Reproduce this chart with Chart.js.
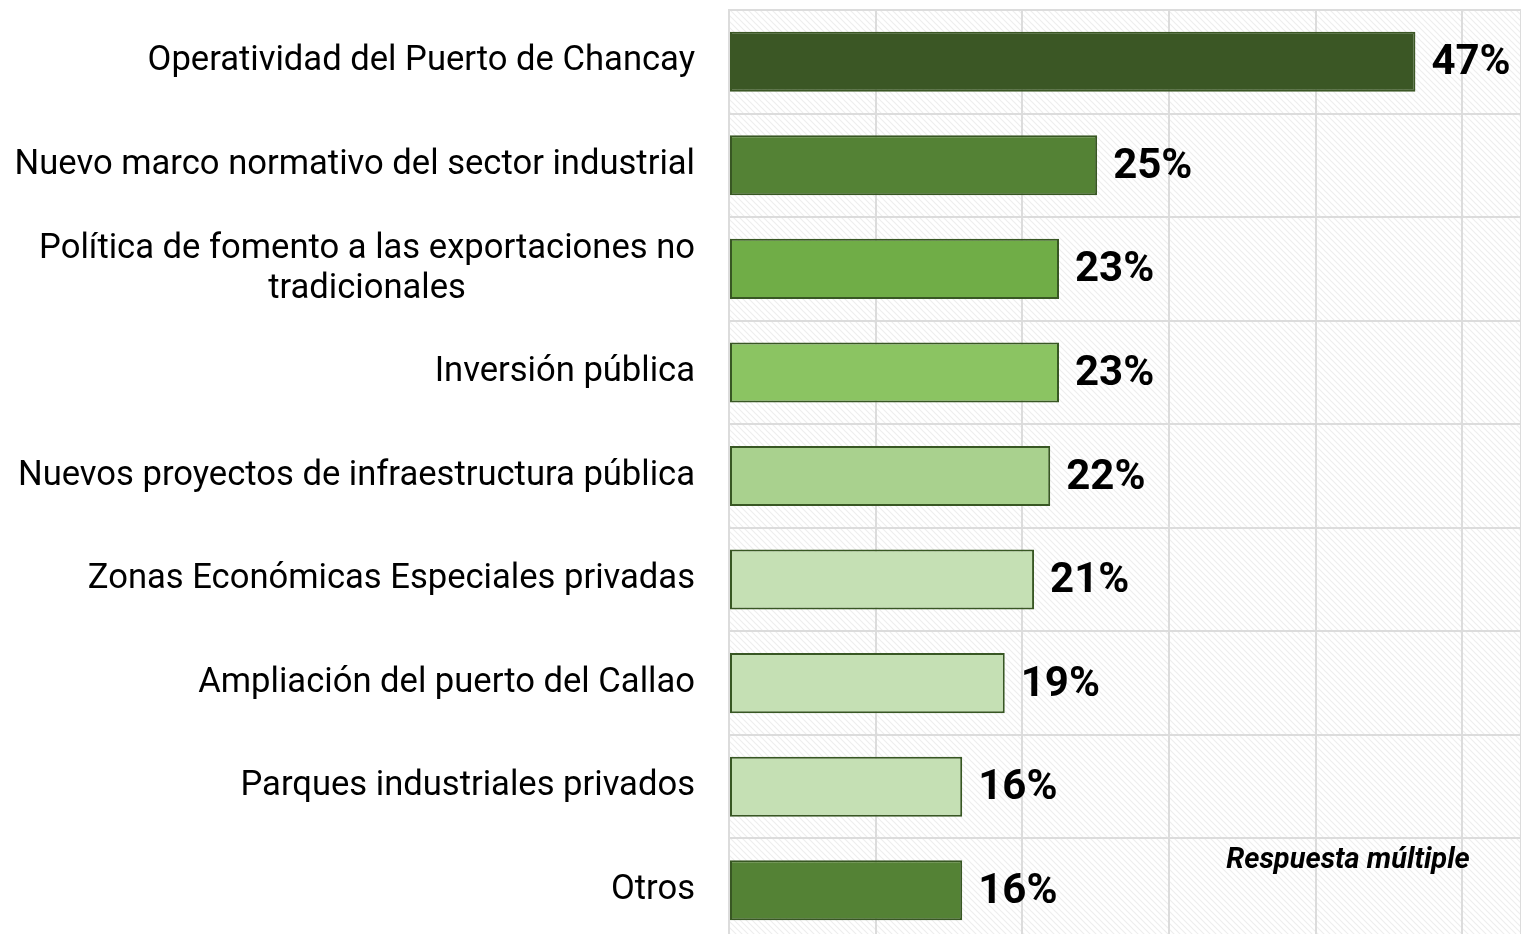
<!DOCTYPE html>
<html>
<head>
<meta charset="utf-8">
<script src="https://cdn.jsdelivr.net/npm/chart.js@4.4.1/dist/chart.umd.min.js"></script>
<style>
  html, body { margin: 0; padding: 0; background: #fff; overflow: hidden; }
  #wrap { width: 1521px; height: 934px; overflow: hidden; }
  #box { width: 1521px; height: 942px; position: relative; }
</style>
</head>
<body>
<div id="wrap"><div id="box"><canvas id="chart"></canvas></div></div>
<script>
// categories (multi-line labels as arrays)
const categories = [
    'Operatividad del Puerto de Chancay',
    'Nuevo marco normativo del sector industrial',
    ['Política de fomento a las exportaciones no', 'tradicionales'],
    'Inversión pública',
    'Nuevos proyectos de infraestructura pública',
    'Zonas Económicas Especiales privadas',
    'Ampliación del puerto del Callao',
    'Parques industriales privados',
    'Otros'
];
const values = [46.8, 25.1, 22.5, 22.5, 21.9, 20.8, 18.8, 15.9, 15.9];
const valueLabels = ['47%', '25%', '23%', '23%', '22%', '21%', '19%', '16%', '16%'];
const barColors = ['#3b5725', '#548235', '#70ad47', '#8bc462', '#a9d18e', '#c5e0b4', '#c5e0b4', '#c5e0b4', '#548235'];
const borderColors = ['#3b5725', '#385723', '#385723', '#385723', '#385723', '#385723', '#385723', '#385723', '#385723'];
const note = 'Respuesta múltiple';

const PLOT_LEFT = 729;

function makeHatch(ctx) {
    const c = document.createElement('canvas');
    c.width = 6; c.height = 6;
    const g = c.getContext('2d');
    g.fillStyle = '#ffffff';
    g.fillRect(0, 0, 6, 6);
    g.strokeStyle = '#eeeeee';
    g.lineWidth = 1.2;
    g.beginPath();
    g.moveTo(0, 0); g.lineTo(6, 6);
    g.moveTo(-3, 3); g.lineTo(3, 9);
    g.moveTo(3, -3); g.lineTo(9, 3);
    g.stroke();
    return ctx.createPattern(c, 'repeat');
}

const hatchBackground = {
    id: 'hatchBackground',
    beforeDraw(chart) {
        const { ctx, chartArea } = chart;
        ctx.save();
        ctx.fillStyle = makeHatch(ctx);
        ctx.fillRect(chartArea.left, chartArea.top, chartArea.right - chartArea.left, chartArea.bottom - chartArea.top);
        ctx.restore();
    }
};

const categoryLabels = {
    id: 'categoryLabels',
    afterDraw(chart) {
        const { ctx } = chart;
        const y = chart.scales.y;
        const rightX = PLOT_LEFT - 34;
        const lineH = 40;
        ctx.save();
        ctx.font = '34.6px Roboto';
        ctx.fillStyle = '#000';
        ctx.textBaseline = 'middle';
        ctx.textAlign = 'center';
        categories.forEach((cat, i) => {
            const lines = Array.isArray(cat) ? cat : [cat];
            const maxW = Math.max(...lines.map(l => ctx.measureText(l).width));
            const cx = rightX - maxW / 2;
            const cy = y.getPixelForValue(i);
            const y0 = cy - (lines.length - 1) * lineH / 2;
            lines.forEach((l, j) => ctx.fillText(l, cx, y0 + j * lineH));
        });
        ctx.restore();
    }
};

const valueLabelsPlugin = {
    id: 'valueLabels',
    afterDatasetsDraw(chart) {
        const { ctx } = chart;
        const meta = chart.getDatasetMeta(0);
        ctx.save();
        ctx.font = 'bold 42px Roboto';
        ctx.fillStyle = '#000';
        ctx.textBaseline = 'middle';
        ctx.textAlign = 'left';
        meta.data.forEach((bar, i) => {
            ctx.fillText(valueLabels[i], bar.x + 16, bar.y + 2);
        });
        ctx.font = 'italic bold 29px Roboto';
        ctx.textAlign = 'center';
        ctx.fillText(note, 1348, 861);
        ctx.restore();
    }
};

new Chart(document.getElementById('chart'), {
    type: 'bar',
    data: {
        labels: categories,
        datasets: [{
            data: values,
            backgroundColor: barColors,
            borderColor: borderColors,
            borderWidth: 2,
            borderSkipped: false,
            barPercentage: 0.58,
            categoryPercentage: 1
        }]
    },
    options: {
        indexAxis: 'y',
        responsive: true,
        maintainAspectRatio: false,
        animation: false,
        layout: { padding: { top: 10, right: 0, bottom: 0, left: 0 } },
        plugins: {
            legend: { display: false },
            tooltip: { enabled: false }
        },
        scales: {
            x: {
                min: 0,
                max: 54,
                ticks: { display: false, stepSize: 10 },
                grid: { color: '#dcdcdc', lineWidth: 2, drawTicks: false },
                border: { display: false },
                afterFit: s => { s.height = 0; }
            },
            y: {
                ticks: { display: false },
                grid: { color: '#dcdcdc', lineWidth: 2, drawTicks: false, offset: true },
                border: { display: true, color: '#dcdcdc', width: 2 },
                afterFit: s => { s.width = PLOT_LEFT; }
            }
        }
    },
    plugins: [hatchBackground, categoryLabels, valueLabelsPlugin]
});
</script>
</body>
</html>
